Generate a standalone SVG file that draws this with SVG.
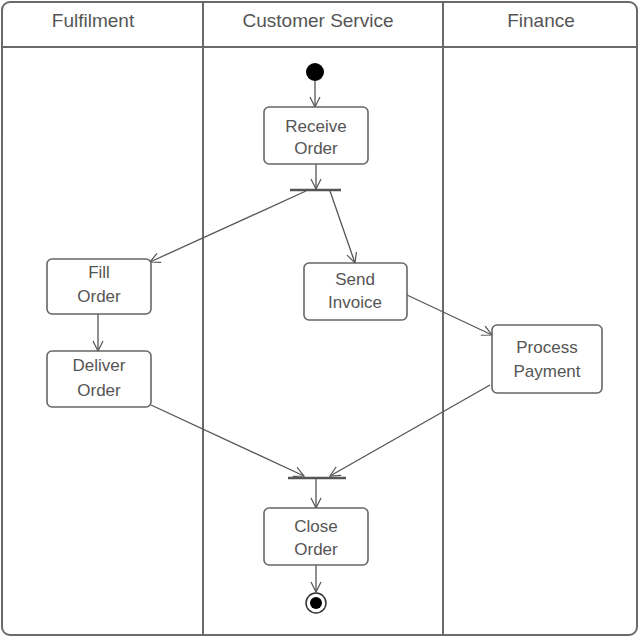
<svg xmlns="http://www.w3.org/2000/svg" width="640" height="640" viewBox="0 0 640 640">
<defs>
<style>
.lane{fill:none;stroke:#6a6a6a;stroke-width:2}
.hdr{font-family:"Liberation Sans",Arial,sans-serif;font-size:19px;fill:#555;text-anchor:middle}
.box{fill:#fff;stroke:#666;stroke-width:1.6}
.lbl{font-family:"Liberation Sans",Arial,sans-serif;font-size:17px;fill:#555;text-anchor:middle}
.edge{fill:none;stroke:#555;stroke-width:1.3;marker-end:url(#arr)}
.bar{stroke:#555;stroke-width:2.5}
</style>
<marker id="arr" viewBox="0 0 12 12" refX="11" refY="6" markerWidth="12" markerHeight="12" markerUnits="userSpaceOnUse" orient="auto">
<path d="M1,1 L11,6 L1,11" fill="none" stroke="#555" stroke-width="1.2"/>
</marker>
</defs>
<rect width="640" height="640" fill="#fff"/>
<g id="lanes">
<rect class="lane" x="2" y="2" width="635" height="633" rx="8"/>
<line class="lane" x1="2" y1="47" x2="637" y2="47"/>
<line class="lane" x1="203" y1="2" x2="203" y2="635"/>
<line class="lane" x1="443" y1="2" x2="443" y2="635"/>
<text class="hdr" x="93" y="27">Fulfilment</text>
<text class="hdr" x="318" y="27">Customer Service</text>
<text class="hdr" x="541" y="27">Finance</text>
</g>
<g id="connectors">
<path class="edge" d="M315,81 L315,107"/>
<path class="edge" d="M316,164 L316,189"/>
<path class="edge" d="M306,191 L150,262"/>
<path class="edge" d="M330,191 L355,263"/>
<path class="edge" d="M98,314 L98,351"/>
<path class="edge" d="M407,295 L492,335"/>
<path class="edge" d="M151,405 L304,476"/>
<path class="edge" d="M490,385 L330,476"/>
<path class="edge" d="M316,479 L316,508"/>
<path class="edge" d="M316,565 L316,592"/>
</g>
<g id="start"><circle cx="315" cy="72" r="9" fill="#000"/></g>
<g id="fork"><line class="bar" x1="290" y1="190" x2="341" y2="190"/></g>
<g id="join"><line class="bar" x1="288" y1="478" x2="346" y2="478"/></g>
<g id="receive-order">
<rect class="box" x="264" y="107" width="104" height="57" rx="5"/>
<text class="lbl" x="316" y="132">Receive</text>
<text class="lbl" x="316" y="154">Order</text>
</g>
<g id="fill-order">
<rect class="box" x="47" y="259" width="104" height="55" rx="5"/>
<text class="lbl" x="99" y="278">Fill</text>
<text class="lbl" x="99" y="302">Order</text>
</g>
<g id="deliver-order">
<rect class="box" x="47" y="351" width="104" height="56" rx="5"/>
<text class="lbl" x="99" y="371">Deliver</text>
<text class="lbl" x="99" y="396">Order</text>
</g>
<g id="send-invoice">
<rect class="box" x="304" y="263" width="103" height="57" rx="5"/>
<text class="lbl" x="355" y="285">Send</text>
<text class="lbl" x="355" y="308">Invoice</text>
</g>
<g id="process-payment">
<rect class="box" x="492" y="325" width="110" height="68" rx="5"/>
<text class="lbl" x="547" y="353">Process</text>
<text class="lbl" x="547" y="377">Payment</text>
</g>
<g id="close-order">
<rect class="box" x="264" y="508" width="104" height="57" rx="5"/>
<text class="lbl" x="316" y="532">Close</text>
<text class="lbl" x="316" y="555">Order</text>
</g>
<g id="end">
<circle cx="316" cy="603" r="10" fill="#fff" stroke="#333" stroke-width="1.5"/>
<circle cx="316" cy="603" r="6" fill="#000"/>
</g>
</svg>
